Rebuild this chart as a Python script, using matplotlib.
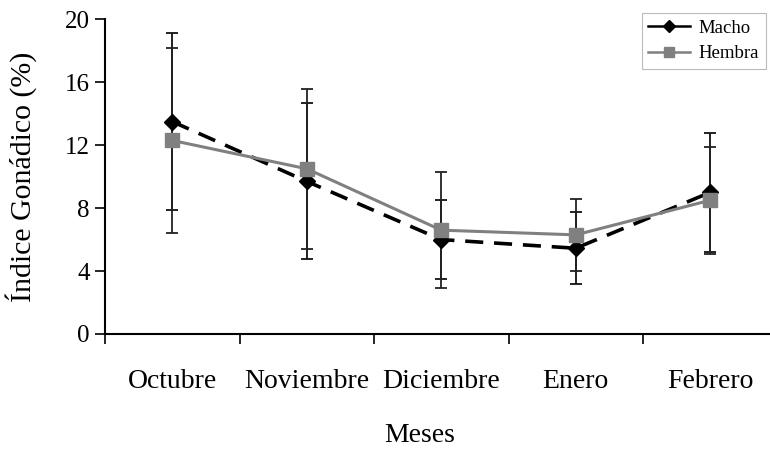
import matplotlib
matplotlib.use("Agg")
import matplotlib.pyplot as plt
import numpy as np

months = ["Octubre", "Noviembre", "Diciembre", "Enero", "Febrero"]
macho = [13.5, 9.7, 6.0, 5.45, 9.0]
macho_err = [5.6, 4.95, 2.5, 2.3, 3.8]
hembra = [12.3, 10.5, 6.6, 6.3, 8.5]
hembra_err = [5.85, 5.1, 3.7, 2.3, 3.4]
yticks = [0, 4, 8, 12, 16, 20]

plt.rcParams['font.family'] = ['Liberation Serif', 'DejaVu Serif']

fig = plt.figure(figsize=(7.7, 4.51), dpi=100)
ax = fig.add_axes([105/770, (451-334)/451, 672.5/770, (334-19.3)/451])

x = np.arange(len(months))

ax.errorbar(x, macho, yerr=macho_err, fmt='none', ecolor='#111111',
            elinewidth=1.3, capsize=4.5, capthick=1.3, zorder=2)
ax.errorbar(x, hembra, yerr=hembra_err, fmt='none', ecolor='#222222',
            elinewidth=1.3, capsize=4.5, capthick=1.3, zorder=2)
ax.plot(x, macho, color='black', linestyle=(0, (5, 3)), linewidth=2.6,
        marker='D', markersize=8, markerfacecolor='black',
        markeredgecolor='black', label='Macho', zorder=3)
ax.plot(x, hembra, color='#808080', linestyle='-', linewidth=2.2,
        marker='s', markersize=9.5, markerfacecolor='#808080',
        markeredgecolor='#808080', label='Hembra', zorder=4)

ax.set_xlim(-0.5, len(months) - 0.5)
ax.set_ylim(0, 20)
ax.set_yticks(yticks)
ax.set_yticklabels([str(v) for v in yticks], fontsize=18)

ax.set_xticks(np.arange(-0.5, len(months), 1.0))
ax.set_xticklabels([])
ax.set_xticks(x, minor=True)
ax.set_xticklabels(months, minor=True, fontsize=20)
ax.tick_params(axis='x', which='major', direction='out', length=7, width=1.2)
ax.tick_params(axis='x', which='minor', length=0, pad=25)
ax.tick_params(axis='y', direction='out', length=7, width=1.2, pad=4)

for s in ['top', 'right']:
    ax.spines[s].set_visible(False)
for s in ['left', 'bottom']:
    ax.spines[s].set_linewidth(1.5)
    ax.spines[s].set_color('black')

ax.set_ylabel("Índice Gonádico (%)", fontsize=21.5, labelpad=20)
fig.text(420/770, 1 - 436/451, "Meses", fontsize=20, ha='center', va='center')

leg = ax.legend(loc='upper right', bbox_to_anchor=(766/770, 1 - 13/451),
                bbox_transform=fig.transFigure, borderaxespad=0,
                fontsize=13.5, frameon=True, fancybox=False, edgecolor='#aaaaaa',
                handlelength=2.2, handletextpad=0.5, borderpad=0.35, labelspacing=0.45,
                markerscale=0.75)
leg.get_frame().set_linewidth(0.8)
for h in leg.get_lines():
    h.set_linestyle('-')
    h.set_linewidth(1.8)

fig.savefig("out.png", dpi=100)
